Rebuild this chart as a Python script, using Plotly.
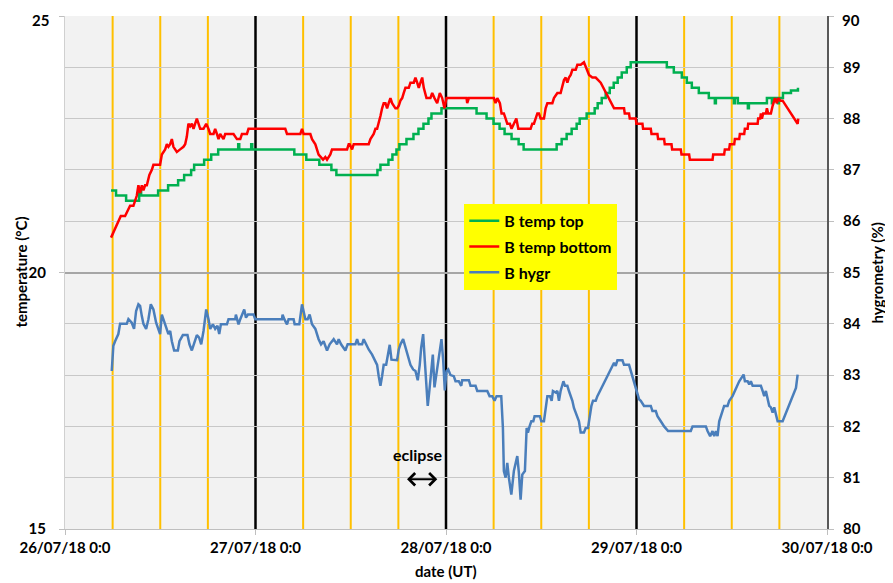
import pandas as pd
import plotly.graph_objects as go

# ---------------- data ----------------
start_date = "2018-07-26 00:00"

# B temp top (°C) - hours since 26/07/18 0:00, step series
top_hours = [5.80, 6.43, 7.70, 9.34, 9.59, 11.73, 12.99, 14.25, 15.01, 15.89, 16.27, 17.53, 18.42, 19.30,
             21.82, 21.95, 23.46, 23.59, 28.89, 30.40, 32.04, 33.56, 34.19, 39.36, 39.74, 40.75, 41.25,
             41.76, 42.13, 43.02, 43.90, 44.53, 45.16, 45.79, 46.17, 47.43, 51.85, 53.11, 53.99, 54.75,
             55.38, 56.26, 57.15, 57.78, 61.94, 62.57, 63.20, 63.83, 64.46, 64.84, 65.72, 66.73, 67.11,
             67.62, 68.12, 68.63, 69.13, 69.63, 70.14, 70.77, 71.27, 75.82, 76.70, 77.71, 78.34, 78.97,
             79.85, 81.11, 81.87, 82.00, 84.27, 84.39, 84.77, 86.03, 86.16, 88.43, 89.06, 89.19, 89.82,
             89.94, 90.45, 91.46, 92.34]
top_temp = [21.6, 21.5, 21.4, 21.6, 21.5, 21.6, 21.7, 21.8, 21.9, 22.0, 22.1, 22.2, 22.3, 22.4,
            22.5, 22.4, 22.5, 22.4, 22.3, 22.2, 22.1, 22.0, 21.9, 22.0, 22.1, 22.2, 22.3,
            22.4, 22.5, 22.6, 22.7, 22.8, 22.9, 23.0, 23.1, 23.2, 23.1, 23.0, 22.9, 22.8,
            22.7, 22.6, 22.5, 22.4, 22.5, 22.6, 22.7, 22.8, 22.9, 23.0, 23.1, 23.2, 23.3,
            23.4, 23.5, 23.6, 23.7, 23.8, 23.9, 24.0, 24.1, 24.0, 23.9, 23.8, 23.7, 23.6,
            23.5, 23.4, 23.3, 23.4, 23.3, 23.4, 23.3, 23.2, 23.3, 23.4, 23.3, 23.4, 23.3,
            23.4, 23.5, 23.55, 23.6]

# B temp bottom (°C)
bottom_hours = [5.80, 6.09, 6.43, 6.72, 7.03, 7.57, 7.86, 8.20, 8.62, 8.83, 9.05, 9.25, 9.46, 9.68, 9.88,
                10.09, 10.31, 10.63, 10.94, 11.14, 11.98, 12.20, 12.62, 12.83, 13.03, 13.25, 13.46, 13.66,
                14.09, 14.51, 14.92, 15.14, 15.35, 15.55, 15.77, 15.98, 16.19, 16.40, 16.61, 16.82, 17.03,
                17.45, 17.79, 18.08, 18.29, 18.71, 18.92, 19.14, 19.34, 19.55, 19.97, 20.18, 21.23, 21.66,
                22.08, 22.29, 22.92, 23.12, 27.75, 27.97, 29.65, 29.86, 30.06, 30.91, 31.12, 31.54, 31.75,
                31.95, 32.51, 32.80, 33.01, 33.43, 33.64, 35.54, 35.74, 35.86, 36.17, 36.37, 38.26, 38.48,
                38.89, 39.11, 39.32, 39.52, 39.74, 39.95, 40.15, 40.37, 40.58, 40.78, 41.00, 41.21, 41.63,
                41.84, 42.05, 42.26, 42.48, 42.68, 42.89, 43.31, 43.52, 43.94, 44.15, 44.37, 44.57, 44.78,
                45.00, 45.20, 45.41, 45.54, 46.04, 46.26, 46.55, 46.89, 47.22, 47.52, 47.81, 48.06, 48.23,
                50.59, 50.67, 50.88, 54.03, 54.24, 54.46, 54.79, 55.00, 55.29, 55.51, 55.72, 56.05, 56.26,
                56.55, 56.86, 57.11, 57.40, 58.66, 58.87, 59.08, 59.29, 59.51, 59.71, 59.92, 60.34, 60.55,
                60.77, 61.40, 61.60, 62.03, 62.44, 62.66, 62.86, 63.08, 63.29, 63.49, 63.71, 63.92, 64.34,
                64.55, 64.97, 65.38, 65.60, 66.02, 66.44, 66.86, 67.49, 69.17, 70.43, 70.52, 71.06, 71.15,
                71.91, 71.99, 72.75, 72.83, 73.80, 73.89, 74.64, 74.72, 75.48, 75.56, 76.41, 76.49, 77.58,
                77.67, 78.63, 78.72, 81.58, 81.66, 83.04, 83.13, 83.67, 83.76, 84.31, 84.39, 84.94, 85.02,
                85.57, 85.65, 86.00, 86.07, 87.26, 87.33, 87.58, 87.67, 87.80, 87.96, 88.30, 88.43, 88.59,
                88.93, 89.15, 89.44, 89.69, 89.86, 90.11, 90.41, 92.30, 92.38]
bottom_temp = [20.68, 20.78, 20.9, 21.0, 21.1, 21.1, 21.2, 21.3, 21.3, 21.4, 21.5, 21.7, 21.55, 21.7, 21.6,
               21.7, 21.7, 21.9, 22.0, 22.1, 22.1, 22.3, 22.4, 22.5, 22.45, 22.5, 22.6, 22.45,
               22.35, 22.4, 22.45, 22.5, 22.65, 22.9, 22.85, 22.9, 22.8, 22.9, 23.0, 22.9, 22.8,
               22.8, 22.9, 22.8, 22.7, 22.7, 22.8, 22.7, 22.6, 22.7, 22.6, 22.7, 22.7, 22.6,
               22.6, 22.7, 22.7, 22.8, 22.8, 22.7, 22.7, 22.8, 22.7, 22.7, 22.6, 22.5, 22.4,
               22.3, 22.2, 22.25, 22.2, 22.3, 22.4, 22.4, 22.5, 22.5, 22.4, 22.5, 22.5, 22.6,
               22.7, 22.8, 22.8, 22.9, 23.05, 23.2, 23.3, 23.3, 23.2, 23.3, 23.4, 23.3, 23.2,
               23.2, 23.25, 23.35, 23.4, 23.5, 23.6, 23.6, 23.7, 23.7, 23.8, 23.7, 23.6, 23.7,
               23.8, 23.6, 23.5, 23.4, 23.4, 23.5, 23.4, 23.3, 23.5, 23.4, 23.2, 23.4, 23.4,
               23.4, 23.3, 23.4, 23.4, 23.3, 23.4, 23.3, 23.1, 23.1, 23.0, 22.9, 22.9, 22.8,
               22.9, 23.0, 22.8, 22.8, 22.8, 22.9, 22.9, 23.0, 23.1, 23.1, 23.0, 23.0, 23.2,
               23.3, 23.3, 23.4, 23.5, 23.5, 23.65, 23.75, 23.8, 23.7, 23.8, 23.85, 23.95, 23.95,
               24.05, 24.05, 24.1, 24.0, 23.85, 23.8, 23.8, 23.7, 23.2, 23.2, 23.1, 23.1, 23.0,
               23.0, 22.9, 22.9, 22.8, 22.8, 22.7, 22.7, 22.6, 22.6, 22.5, 22.5, 22.4, 22.4,
               22.3, 22.3, 22.2, 22.2, 22.3, 22.3, 22.4, 22.4, 22.5, 22.5, 22.6, 22.6, 22.7,
               22.7, 22.8, 22.8, 22.9, 22.9, 23.0, 23.0, 23.1, 23.0, 23.1, 23.1, 23.2, 23.1,
               23.1, 23.25, 23.4, 23.3, 23.4, 23.35, 23.35, 22.9, 23.0]

# B hygr (%)
hygr_hours = [5.89, 6.09, 6.31, 6.52, 6.72, 6.94, 7.78, 7.99, 8.41, 8.70, 8.96, 9.25, 9.46, 9.68, 9.88,
              10.22, 10.51, 10.81, 11.14, 11.48, 11.77, 11.98, 12.20, 12.40, 12.74, 13.03, 13.25, 13.46,
              13.75, 14.22, 14.42, 14.85, 15.43, 15.68, 15.98, 16.27, 16.61, 16.90, 17.16, 17.45, 17.79,
              18.08, 18.29, 18.63, 18.92, 19.21, 19.43, 19.64, 20.40, 20.60, 21.45, 21.53, 21.86, 22.08,
              22.58, 22.80, 23.05, 23.75, 23.97, 27.34, 27.41, 27.63, 27.97, 28.17, 28.80, 28.93, 29.52,
              29.86, 30.28, 30.57, 30.82, 31.12, 31.54, 31.95, 32.26, 32.58, 33.01, 33.34, 33.85, 34.27,
              34.48, 34.78, 35.32, 35.61, 36.58, 36.80, 37.00, 37.43, 37.63, 37.97, 38.26, 38.69, 38.89,
              39.32, 39.52, 39.74, 39.95, 40.15, 40.46, 40.71, 40.91, 41.13, 41.42, 41.84, 42.05, 42.26,
              42.60, 42.80, 43.11, 43.31, 43.52, 43.86, 44.15, 44.44, 44.69, 44.87, 45.12, 45.33, 45.54,
              45.70, 45.92, 46.13, 46.34, 46.55, 46.76, 46.97, 47.18, 47.43, 47.65, 47.85, 48.06, 48.28,
              48.57, 48.98, 49.20, 49.61, 49.92, 50.04, 50.88, 51.09, 51.72, 51.94, 53.20, 53.49, 53.83,
              54.12, 54.37, 54.96, 55.17, 55.29, 55.51, 55.72, 55.92, 56.23, 56.55, 56.98, 57.18, 57.40,
              57.61, 57.94, 58.16, 58.32, 58.53, 58.75, 59.00, 59.16, 59.83, 60.01, 60.34, 60.55, 60.77,
              61.09, 61.31, 61.47, 61.81, 62.03, 62.23, 62.44, 62.79, 62.99, 63.29, 63.49, 63.71, 63.92,
              64.12, 64.55, 64.75, 64.97, 65.38, 65.60, 65.89, 66.02, 66.32, 66.52, 66.86, 67.07, 69.17,
              69.38, 69.60, 70.23, 70.43, 71.06, 71.27, 71.62, 72.03, 72.32, 72.54, 72.95, 73.80, 74.01,
              74.43, 74.64, 75.06, 75.48, 75.98, 78.84, 79.06, 80.74, 80.95, 81.28, 81.58, 81.79, 82.00,
              82.21, 82.42, 82.72, 83.04, 83.47, 83.68, 84.10, 84.39, 84.74, 84.94, 85.37, 85.49, 85.66,
              86.00, 86.20, 86.41, 86.63, 87.67, 87.89, 88.09, 88.30, 88.52, 88.72, 88.93, 89.15, 89.35,
              89.57, 89.78, 90.41, 92.09, 92.30]
hygr_values = [83.08, 83.57, 83.66, 83.73, 83.8, 84.0, 84.0, 84.09, 84.02, 83.9, 84.25, 84.38, 84.35, 84.15, 84.0,
               83.9, 84.09, 84.38, 84.28, 84.02, 83.9, 83.8, 84.18, 84.09, 83.92, 83.8, 83.86, 83.66,
               83.48, 83.48, 83.66, 83.78, 83.78, 83.6, 83.48, 83.63, 83.78, 83.73, 83.6, 83.86, 84.28,
               84.09, 83.9, 83.99, 83.9, 83.96, 83.8, 83.99, 83.99, 84.09, 84.09, 84.18, 83.99, 84.09,
               84.28, 84.12, 84.18, 84.18, 84.09, 84.09, 84.18, 84.09, 83.99, 84.09, 84.09, 83.99, 83.99,
               84.38, 84.09, 84.09, 84.18, 83.99, 83.9, 83.7, 83.6, 83.66, 83.48, 83.6, 83.7, 83.6,
               83.7, 83.6, 83.48, 83.6, 83.6, 83.7, 83.6, 83.6, 83.7, 83.59, 83.5, 83.4, 83.34,
               83.2, 82.98, 82.79, 82.98, 83.2, 83.2, 83.44, 83.59, 83.3, 83.29, 83.29, 83.5, 83.6,
               83.7, 83.6, 83.4, 83.3, 83.2, 83.11, 83.08, 82.9, 83.2, 83.53, 83.8, 83.28, 82.76,
               82.4, 82.72, 83.11, 83.4, 82.76, 83.0, 83.14, 83.4, 83.7, 83.28, 82.7, 83.08, 83.11,
               83.0, 82.98, 82.88, 82.88, 82.79, 82.9, 82.9, 82.79, 82.79, 82.69, 82.69, 82.59, 82.59,
               82.5, 82.59, 82.59, 81.97, 81.13, 81.0, 81.29, 81.0, 80.67, 81.13, 81.42, 81.1, 80.57,
               81.06, 81.13, 81.97, 81.88, 82.0, 82.1, 82.1, 82.2, 82.2, 82.1, 82.1, 82.36, 82.59,
               82.59, 82.5, 82.69, 82.66, 82.69, 82.5, 82.69, 82.88, 82.79, 82.79, 82.69, 82.59, 82.5,
               82.36, 82.2, 82.1, 81.88, 81.88, 81.97, 81.97, 82.1, 82.4, 82.5, 82.5, 82.59, 83.24,
               83.18, 83.29, 83.29, 83.2, 83.2, 83.08, 82.92, 82.69, 82.53, 82.5, 82.4, 82.4, 82.3,
               82.3, 82.2, 82.1, 82.0, 81.91, 81.91, 82.0, 82.0, 81.91, 81.81, 81.91, 81.81, 81.91,
               81.81, 82.1, 82.27, 82.4, 82.4, 82.5, 82.59, 82.69, 82.79, 82.88, 82.98, 83.01, 82.88,
               82.88, 82.82, 82.88, 82.79, 82.79, 82.69, 82.59, 82.69, 82.5, 82.4, 82.37, 82.27, 82.37,
               82.2, 82.1, 82.1, 82.75, 83.01]

day_labels = ["26/07/18 0:0", "27/07/18 0:0", "28/07/18 0:0", "29/07/18 0:0", "30/07/18 0:0"]
temp_ticks = [15, 20, 25]
temp_tick_labels = ["15", "20", "25"]
hygr_ticks = [80, 81, 82, 83, 84, 85, 86, 87, 88, 89, 90]
hygr_tick_labels = ["80", "81", "82", "83", "84", "85", "86", "87", "88", "89", "90"]
eclipse_start_h = 42.9
eclipse_end_h = 46.9
eclipse_label_h = 44.4

# ---------------- figure ----------------
t0 = pd.Timestamp(start_date)


def to_time(hours):
    return [t0 + pd.Timedelta(hours=h) for h in hours]


FONT = "Lato, 'Open Sans', sans-serif"
BOLD15 = dict(family=FONT, size=15, color="black", weight="bold")

fig = go.Figure()
fig.add_trace(go.Scatter(x=to_time(top_hours), y=top_temp, name="B temp top", mode="lines",
                         line=dict(color="#00b050", width=2.5, shape="hv"), legendgroup="a"))
fig.add_trace(go.Scatter(x=to_time(bottom_hours), y=bottom_temp, name="B temp bottom", mode="lines",
                         line=dict(color="#ff0000", width=2.5), legendgroup="b"))
fig.add_trace(go.Scatter(x=to_time(hygr_hours), y=hygr_values, name="B hygr", mode="lines",
                         line=dict(color="#4a7ebb", width=2.5), yaxis="y2", legendgroup="c"))

# vertical marker lines every 6 hours (black at midnight)
shapes = []
for h in range(6, 96, 6):
    col = "#000000" if h % 24 == 0 else "#ffc000"
    shapes.append(dict(type="line", xref="x", yref="paper", x0=t0 + pd.Timedelta(hours=h),
                       x1=t0 + pd.Timedelta(hours=h), y0=0, y1=1, layer="between",
                       line=dict(color=col, width=2.5 if h % 24 == 0 else 2)))

day_vals = [t0 + pd.Timedelta(days=d) for d in range(len(day_labels))]

# top-most tick labels are drawn as annotations anchored inside the page so they are not clipped
temp_axis_text = temp_tick_labels[:-1] + [""]
hygr_axis_text = hygr_tick_labels[:-1] + [""]

# the page body has an 8px default margin, so the figure is sized/offset to compensate
fig.update_layout(
    width=885, height=575,
    margin=dict(l=57, r=66, t=8, b=54, autoexpand=False),
    plot_bgcolor="#f2f2f2", paper_bgcolor="white",
    font=dict(family=FONT, size=14, color="black", weight="bold"),
    shapes=shapes,
    showlegend=True,
    legend=dict(x=0.524, y=0.634, xanchor="left", yanchor="top", bgcolor="#ffff00",
                font=dict(family=FONT, size=16, color="black", weight="bold"),
                itemwidth=30, tracegroupgap=2, borderwidth=0),
    xaxis=dict(type="date", range=[day_vals[0], day_vals[-1]], tickvals=day_vals, ticktext=day_labels,
               ticks="outside", ticklen=5, tickcolor="#bfbfbf", showline=True, linecolor="#bfbfbf",
               showgrid=False, zeroline=False, automargin=False, tickfont=BOLD15,
               ticklabeloverflow="allow"),
    yaxis=dict(range=[15, 25], tickvals=temp_ticks, ticktext=temp_axis_text, ticks="outside", ticklen=5,
               tickcolor="#bfbfbf", showline=True, linecolor="#d0d0d0", showgrid=True, gridcolor="#a6a6a6",
               gridwidth=2, zeroline=False, ticklabelstandoff=10, automargin=False, ticklabeloverflow="allow",
               minor=dict(dtick=1, showgrid=True, gridcolor="#c8c8c8", gridwidth=1, ticks=""),
               tickfont=BOLD15),
    yaxis2=dict(range=[80, 90], tickvals=hygr_ticks, ticktext=hygr_axis_text, overlaying="y", side="right",
                ticks="outside", ticklen=5, tickcolor="#bfbfbf", showline=True, linecolor="#595959",
                linewidth=2, showgrid=False, zeroline=False, ticklabelstandoff=6, automargin=False,
                ticklabeloverflow="allow", tickfont=BOLD15),
    annotations=[
        dict(text=temp_tick_labels[-1], xref="paper", yref="paper", x=0, y=1, xanchor="right",
             yanchor="top", xshift=-14, yshift=7, showarrow=False, font=BOLD15),
        dict(text=hygr_tick_labels[-1], xref="paper", yref="paper", x=1, y=1, xanchor="left",
             yanchor="top", xshift=13, yshift=7, showarrow=False, font=BOLD15),
        dict(text="temperature (°C)", xref="paper", yref="paper", x=-0.059, y=0.5, textangle=-90,
             xanchor="center", yanchor="middle", showarrow=False, font=BOLD15),
        dict(text="hygrometry (%)", xref="paper", yref="paper", x=1.0656, y=0.5, textangle=-90,
             xanchor="center", yanchor="middle", showarrow=False, font=BOLD15),
        dict(text="date (UT)", xref="paper", yref="paper", x=0.5, y=-0.081, xanchor="center",
             yanchor="middle", showarrow=False, font=BOLD15),
        dict(x=t0 + pd.Timedelta(hours=eclipse_label_h), y=16.46, xref="x", yref="y",
             text="eclipse", showarrow=False, font=dict(family=FONT, size=16, weight="bold")),
        dict(x=t0 + pd.Timedelta(hours=eclipse_end_h), y=15.97, ax=t0 + pd.Timedelta(hours=eclipse_start_h),
             ay=15.97, xref="x", yref="y", axref="x", ayref="y", text="", showarrow=True,
             arrowhead=4, startarrowhead=4, arrowside="end+start", arrowsize=1.2, startarrowsize=1.2,
             arrowwidth=2, arrowcolor="black"),
    ],
)

fig.write_html("out.html")
